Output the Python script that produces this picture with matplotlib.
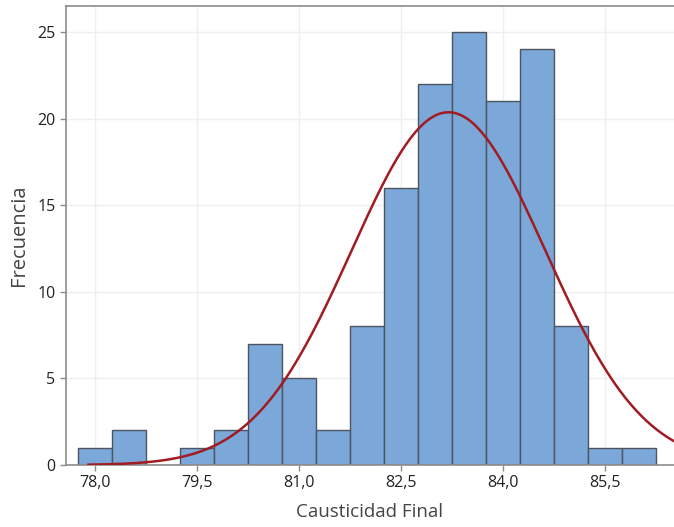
import matplotlib
matplotlib.use('Agg')
import matplotlib.pyplot as plt
import numpy as np

matplotlib.rcParams['font.family'] = ['Open Sans', 'DejaVu Sans']

# histogram bins (left edges) and counts
bin_edges = [77.75, 78.25, 78.75, 79.25, 79.75, 80.25, 80.75, 81.25, 81.75,
             82.25, 82.75, 83.25, 83.75, 84.25, 84.75, 85.25, 85.75, 86.25]
counts = [1, 2, 0, 1, 2, 7, 5, 2, 8, 16, 22, 25, 21, 24, 8, 1, 1]

# fitted normal curve parameters
mu = 83.2
sigma = 1.43
n_total = sum(counts)
bin_w = 0.5

xticks = [78.0, 79.5, 81.0, 82.5, 84.0, 85.5]
xticklabels = ['78,0', '79,5', '81,0', '82,5', '84,0', '85,5']
yticks = [0, 5, 10, 15, 20, 25]

fig = plt.figure(figsize=(6.74, 5.27), dpi=100)
ax = fig.add_axes([0.0975, 0.1176, 0.9025, 0.871])

ax.grid(True, color='#efefef', linewidth=1)
ax.set_axisbelow(True)

lefts = bin_edges[:-1]
ax.bar(lefts, counts, width=bin_w, align='edge', color='#7ba7d9',
       edgecolor='#4d5560', linewidth=1, zorder=2)

xs = np.linspace(77.9, 86.6, 400)
ys = n_total * bin_w / (sigma * np.sqrt(2 * np.pi)) * np.exp(-0.5 * ((xs - mu) / sigma) ** 2)
ax.plot(xs, ys, color='#a01c22', linewidth=1.8, zorder=3)

ax.set_xlim(77.565, 86.52)
ax.set_ylim(0, 26.5)
ax.set_xticks(xticks)
ax.set_xticklabels(xticklabels)
ax.set_yticks(yticks)

for s in ['left', 'top', 'bottom']:
    ax.spines[s].set_color('#8c8c8c')
    ax.spines[s].set_linewidth(1.2)
ax.spines['right'].set_visible(False)

ax.tick_params(axis='both', colors='#8c8c8c', labelcolor='#222222',
               labelsize=11.5, length=4, width=1)

ax.set_xlabel('Causticidad Final', fontsize=13.5, color='#444444', labelpad=8)
ax.set_ylabel('Frecuencia', fontsize=14.5, color='#444444', labelpad=6)

fig.savefig('out.png', dpi=100)
